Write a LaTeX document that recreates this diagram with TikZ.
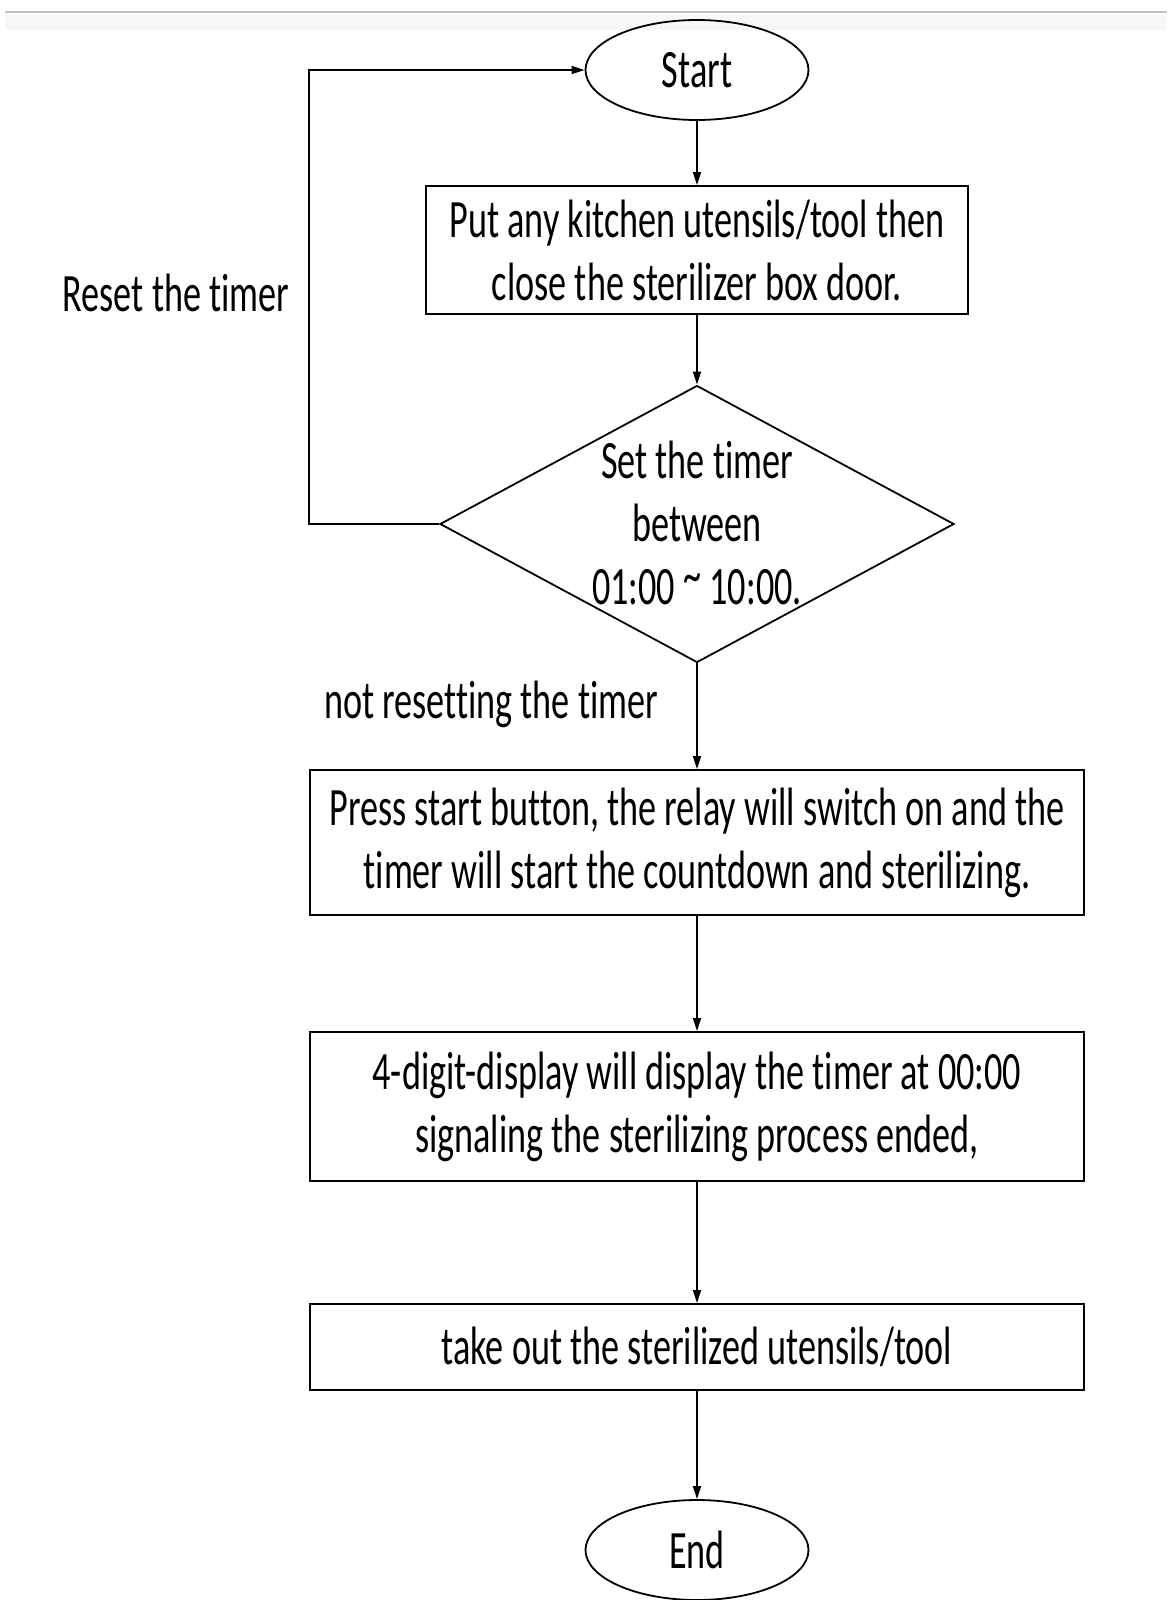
\documentclass[tikz,border=0pt]{standalone}
\usepackage{fontspec}
\setmainfont[FakeStretch=0.67,Ligatures=NoCommon]{Carlito}
\usetikzlibrary{shapes.geometric,arrows.meta}
\begin{document}
\begin{tikzpicture}[x=1pt,y=-1pt,
  every node/.style={font=\fontsize{54pt}{63pt}\selectfont},
  term/.style={draw,ellipse,line width=1.8pt,minimum width=223pt,minimum height=100pt,inner sep=0pt},
  procbox/.style={draw,rectangle,line width=1.8pt,inner sep=0pt,align=center},
  decbox/.style={draw,diamond,line width=1.8pt,inner sep=0pt,minimum width=514pt,minimum height=277pt},
  txt/.style={inner sep=0pt,align=center},
  flow/.style={line width=1.8pt,-{Triangle[length=13pt,width=8pt]}}]
\useasboundingbox (0,0) rectangle (1167,1600);
\draw[line width=2.5pt,black!25] (5,12) -- (1167,12);
\fill[black!3] (5,14) rectangle (1167,30);
\node[term] (start) at (697,70) {Start};
\node[procbox,minimum width=542pt,minimum height=128pt] (b1) at (697,250) {Put any kitchen utensils/tool then\\close the sterilizer box door.};
\node[decbox] (dec) at (697,524) {};
\node[txt] (dectext) at (697,523) {Set the timer\\between\\01:00 \raisebox{0.2em}{\textasciitilde}\ 10:00.};
\node[procbox,minimum width=774pt,minimum height=145pt] (b2) at (697,842.5) {Press start button, the relay will switch on and the\\timer will start the countdown and sterilizing.};
\node[procbox,minimum width=774pt,minimum height=149pt] (b3) at (697,1106.5) {4-digit-display will display the timer at 00:00\\signaling the sterilizing process ended,};
\node[procbox,minimum width=774pt,minimum height=86pt] (b4) at (697,1347) {take out the sterilized utensils/tool};
\node[term] (end) at (697,1550) {End};
\node[txt] (reset) at (176,293) {Reset the timer};
\node[txt] (notreset) at (491,704) {not resetting the timer};
\coordinate (lb) at (309,524);
\coordinate (lt) at (309,70);
\draw[flow] (start) -- (b1);
\draw[flow] (b1) -- (dec);
\draw[flow] (dec.south) -- (b2);
\draw[flow] (b2) -- (b3);
\draw[flow] (b3) -- (b4);
\draw[flow] (b4) -- (end);
\draw[flow] (dec.west) -- (lb) -- (lt) -- (start.west);
\end{tikzpicture}
\end{document}
